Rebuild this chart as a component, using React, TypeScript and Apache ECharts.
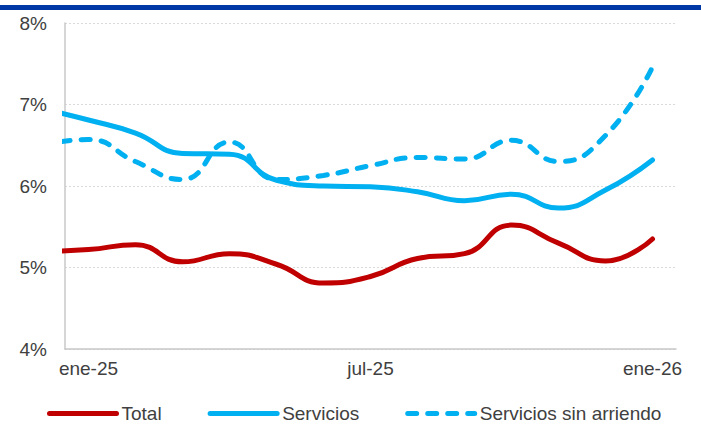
import React, { useEffect, useRef } from "react";
import * as echarts from "echarts";

// Monthly data; index 0 = ene-25, index -1 = dic-24 (partly outside the plot, clipped)
const months = ["ene-25", "feb-25", "mar-25", "abr-25", "may-25", "jun-25", "jul-25", "ago-25", "sep-25", "oct-25", "nov-25", "dic-25", "ene-26"];
const monthIndex = [-1, 0, 1, 2, 3, 4, 5, 6, 7, 8, 9, 10, 11, 12];
const total = [5.2, 5.22, 5.28, 5.07, 5.17, 5.04, 4.81, 4.89, 5.11, 5.17, 5.52, 5.3, 5.08, 5.35];
const servicios = [6.95, 6.81, 6.65, 6.4, 6.39, 6.07, 6.0, 5.99, 5.93, 5.82, 5.9, 5.73, 5.95, 6.32];
const sinArriendo = [6.5, 6.57, 6.3, 6.08, 6.54, 6.08, 6.13, 6.25, 6.35, 6.33, 6.56, 6.3, 6.62, 7.46];
const seriesNames = ["Total", "Servicios", "Servicios sin arriendo"];

const FONT = "'Liberation Sans', Arial, sans-serif";
const TXT = "#404040";

export default function App() {
  const ref = useRef<HTMLDivElement>(null);
  useEffect(() => {
    if (!ref.current) return;
    const chart = echarts.init(ref.current, undefined, { renderer: "svg" });
    const toPts = (arr: number[]) => arr.map((v, i) => [monthIndex[i], v]);
    const lineBase = { type: "line", xAxisIndex: 1, smooth: 0.5, symbol: "none", showSymbol: false, clip: true };
    chart.setOption({
      animation: false,
      backgroundColor: "#ffffff",
      textStyle: { fontFamily: FONT },
      graphic: [
        { type: "rect", left: 0, top: 5, shape: { width: 701, height: 5 }, style: { fill: "#0039A6" } },
      ],
      grid: { left: 65, right: 25, top: 23, bottom: 76 },
      legend: {
        left: 42,
        top: 399,
        itemWidth: 67,
        itemHeight: 6,
        itemGap: 46,
        itemStyle: { opacity: 0 },
        lineStyle: { width: 5, cap: "round" },
        textStyle: { fontFamily: FONT, fontSize: 19, color: TXT },
        data: seriesNames,
      },
      xAxis: [
        {
          type: "category",
          data: months,
          boundaryGap: true,
          axisLine: { show: true, onZero: false, lineStyle: { color: "#c8c8c8", width: 1.5 } },
          axisTick: { show: false },
          splitLine: { show: false },
          axisLabel: { interval: 5, margin: 10, fontFamily: FONT, fontSize: 19, color: TXT },
        },
        {
          type: "value",
          min: -0.5,
          max: 12.5,
          show: false,
          axisLine: { onZero: false },
          splitLine: { show: false },
        },
      ],
      yAxis: {
        type: "value",
        min: 4,
        max: 8,
        interval: 1,
        axisLine: { show: true, onZero: false, lineStyle: { color: "#c8c8c8", width: 1.5 } },
        axisTick: { show: false },
        splitLine: { show: true, lineStyle: { color: "#d9d9d9", width: 1, type: [2, 2] } },
        axisLabel: { margin: 18, fontFamily: FONT, fontSize: 19, color: TXT, formatter: "{value}%" },
      },
      series: [
        {
          ...lineBase,
          name: seriesNames[0],
          data: toPts(total),
          color: "#C00000",
          lineStyle: { color: "#C00000", width: 5, cap: "round" },
        },
        {
          ...lineBase,
          name: seriesNames[1],
          data: toPts(servicios),
          color: "#00B0F0",
          lineStyle: { color: "#00B0F0", width: 5, cap: "round" },
        },
        {
          ...lineBase,
          name: seriesNames[2],
          data: toPts(sinArriendo),
          color: "#00B0F0",
          lineStyle: { color: "#00B0F0", width: 5, type: [9, 11], cap: "round" },
        },
      ],
    });
    return () => chart.dispose();
  }, []);
  return <div ref={ref} style={{ position: "fixed", left: 0, top: 0, width: 701, height: 425 }} />;
}
